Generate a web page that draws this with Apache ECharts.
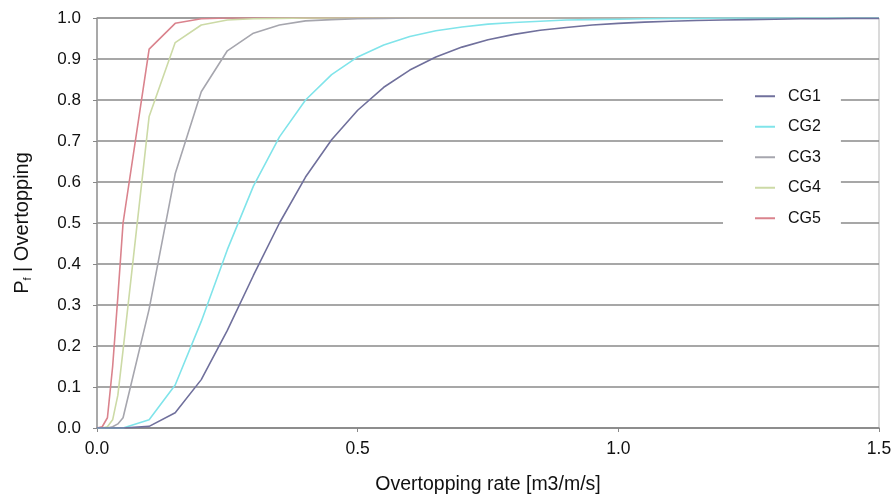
<!DOCTYPE html>
<html>
<head>
<meta charset="utf-8">
<script src="https://cdn.jsdelivr.net/npm/echarts@6/dist/echarts.min.js"></script>
<style>
  html, body { margin: 0; padding: 0; background: #fff; }
  #chart { width: 895px; height: 496px; }
</style>
</head>
<body>
<div id="chart"></div>
<script>
// overtopping rate [m3/m/s]
var rates = [0, 0.01, 0.02, 0.03, 0.04, 0.05, 0.1, 0.15, 0.2, 0.25, 0.3, 0.35, 0.4, 0.45, 0.5,
  0.55, 0.6, 0.65, 0.7, 0.75, 0.8, 0.85, 0.9, 0.95, 1.0, 1.05, 1.1, 1.15, 1.2, 1.25, 1.3,
  1.35, 1.4, 1.45, 1.5];

var cg1 = [0, 0, 0, 0, 0, 0, 0.004, 0.037, 0.118, 0.238, 0.372, 0.5, 0.612, 0.703, 0.775,
  0.831, 0.873, 0.905, 0.929, 0.947, 0.96, 0.97, 0.977, 0.983, 0.987, 0.99, 0.992, 0.994,
  0.995, 0.996, 0.997, 0.998, 0.998, 0.999, 0.999];
var cg2 = [0, 0, 0, 0, 0, 0, 0.02, 0.105, 0.26, 0.435, 0.59, 0.71, 0.8, 0.862, 0.905,
  0.934, 0.955, 0.969, 0.978, 0.985, 0.989, 0.992, 0.995, 0.996, 0.997, 0.998, 0.999, 0.999,
  1, 1, 1, 1, 1, 1, 1];
var cg3 = [0, 0, 0, 0.003, 0.01, 0.025, 0.29, 0.62, 0.82, 0.92, 0.963, 0.983, 0.993, 0.996, 0.998,
  0.999, 1, 1, 1, 1, 1, 1, 1, 1, 1, 1, 1, 1, 1, 1, 1, 1, 1, 1, 1];
var cg4 = [0, 0, 0.003, 0.02, 0.08, 0.19, 0.76, 0.94, 0.983, 0.995, 0.998, 0.999, 1, 1, 1,
  1, 1, 1, 1, 1, 1, 1, 1, 1, 1, 1, 1, 1, 1, 1, 1, 1, 1, 1, 1];
var cg5 = [0, 0.003, 0.025, 0.15, 0.32, 0.5, 0.924, 0.987, 0.998, 1, 1, 1, 1, 1, 1,
  1, 1, 1, 1, 1, 1, 1, 1, 1, 1, 1, 1, 1, 1, 1, 1, 1, 1, 1, 1];

var names = ['CG1', 'CG2', 'CG3', 'CG4', 'CG5'];
var values = [cg1, cg2, cg3, cg4, cg5];
var colors = ['#70709c', '#80e4ea', '#a6a6ae', '#ccdaa6', '#da838d'];

var font = '"Liberation Sans", Arial, sans-serif';

function pairs(ys) {
  return rates.map(function (x, i) { return [x, ys[i]]; });
}

var series = names.map(function (n, i) {
  return {
    name: n,
    type: 'line',
    data: pairs(values[i]),
    showSymbol: false,
    symbol: 'none',
    z: 5 - i,
    lineStyle: { color: colors[i], width: 1.6 },
    itemStyle: { color: colors[i] }
  };
});

var myChart = echarts.init(document.getElementById('chart'));

var option = {
  animation: false,
  backgroundColor: '#fff',
  grid: {
    left: 97, right: 16, top: 18, bottom: 68,
    outerBoundsMode: 'none',
    containLabel: false,
    show: true, borderColor: '#b5b5b5', borderWidth: 1
  },
  legend: {
    data: names,
    orient: 'vertical',
    left: 723,
    top: 82,
    backgroundColor: '#fff',
    padding: [6, 20, 6, 32],
    icon: 'rect',
    itemWidth: 20,
    itemHeight: 2,
    itemGap: 14,
    textStyle: { fontFamily: font, fontSize: 16, color: '#111', lineHeight: 16.5, padding: [0, 0, 0, 8] }
  },
  xAxis: {
    type: 'value',
    min: 0, max: 1.5, interval: 0.5,
    name: 'Overtopping rate [m3/m/s]',
    nameLocation: 'middle',
    nameGap: 47,
    nameTextStyle: { fontFamily: font, fontSize: 19.5, color: '#111' },
    axisLine: { lineStyle: { color: '#888', width: 1.5 } },
    axisTick: { show: true, length: 4, lineStyle: { color: '#888' } },
    axisLabel: {
      fontFamily: font, fontSize: 17.5, color: '#111', margin: 12,
      formatter: function (v) { return v.toFixed(1); }
    },
    splitLine: { show: false }
  },
  yAxis: {
    type: 'value',
    min: 0, max: 1, interval: 0.1,
    name: '{p|P}{s|f}{p| | Overtopping}',
    nameLocation: 'middle',
    nameGap: 64,
    nameRotate: 90,
    nameTextStyle: {
      rich: {
        p: { fontFamily: font, fontSize: 20, color: '#111' },
        s: { fontFamily: font, fontSize: 11, color: '#111', verticalAlign: 'bottom', padding: [10, 0, 0, 0] }
      }
    },
    axisLine: { show: true, lineStyle: { color: '#999', width: 1.5 } },
    axisTick: { show: true, inside: false, length: 4, lineStyle: { color: '#888' } },
    axisLabel: {
      fontFamily: font, fontSize: 17, color: '#111', margin: 16,
      formatter: function (v) { return v.toFixed(1); }
    },
    splitLine: { show: true, lineStyle: { color: '#8a8a8a', width: 1.5 } }
  },
  series: series
};

myChart.setOption(option);
</script>
</body>
</html>
